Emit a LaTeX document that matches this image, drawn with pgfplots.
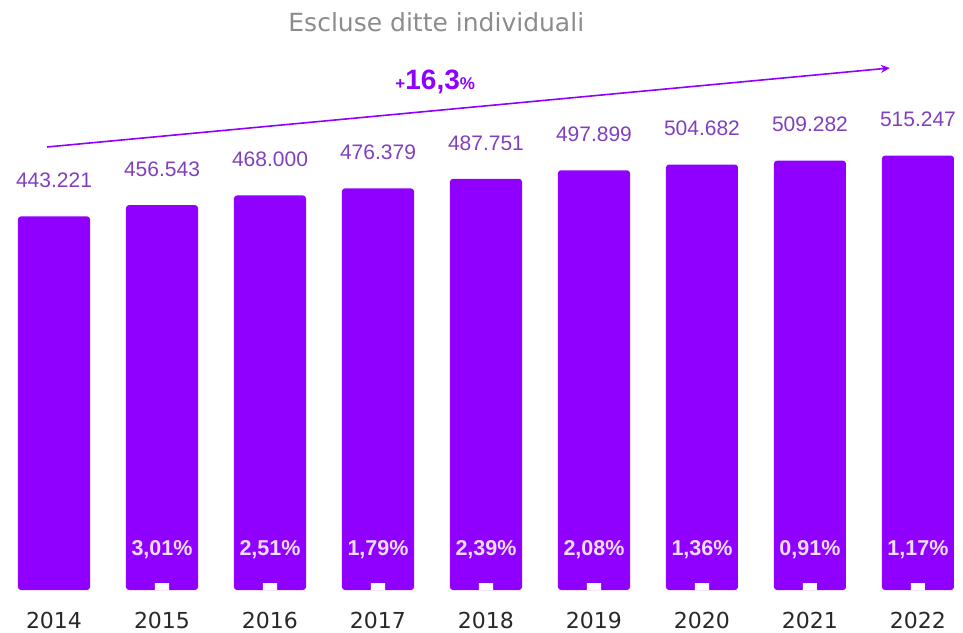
\documentclass[border=0pt]{standalone}
\usepackage{pgfplots}
\pgfplotsset{compat=1.18}
\usepackage{pgfplotstable}
\usetikzlibrary{arrows.meta}
\usepackage{fontspec}
\setmainfont{Liberation Sans}
\newfontfamily\comic{DejaVu Sans}
\definecolor{barc}{RGB}{143,0,255}
\definecolor{valc}{RGB}{128,64,190}
\definecolor{pctc}{RGB}{242,220,255}
\definecolor{titc}{RGB}{140,140,140}
\definecolor{yearc}{RGB}{40,40,40}
\pgfplotstableread{
x y lab
0 443221 443.221
1 456543 456.543
2 468000 468.000
3 476379 476.379
4 487751 487.751
5 497899 497.899
6 504682 504.682
7 509282 509.282
8 515247 515.247
}\datatab
\pgfplotstableread{
x y
1 8300
2 8300
3 8300
4 8300
5 8300
6 8300
7 8300
8 8300
}\marktab
\begin{document}
\begin{tikzpicture}
\begin{axis}[
  scale only axis,
  width=963pt, height=632pt,
  xmin=-0.5, xmax=8.417,
  ymin=-49822, ymax=699881,
  axis line style={draw=none},
  tick style={draw=none},
  ytick=\empty,
  xtick={0,...,8},
  xticklabels={2014,2015,2016,2017,2018,2019,2020,2021,2022},
  xticklabel style={anchor=center, yshift=12pt, font=\comic\fontsize{22}{24}\selectfont, text=yearc},
  clip=false,
]
\addplot[ybar, bar width=0.667, bar shift=0pt, fill=barc, draw=none,
  sharp corners, rounded corners=3pt,
  nodes near coords, point meta=explicit symbolic,
  every node near coord/.append style={anchor=center, yshift=36pt, text=valc, font=\fontsize{21}{23}\selectfont}]
  table[x=x, y=y, meta=lab] {\datatab};
\addplot[ybar, bar width=0.13, bar shift=0pt, fill=white, draw=none] table[x=x, y=y] {\marktab};
\foreach \i/\p in {1/{3,01},2/{2,51},3/{1,79},4/{2,39},5/{2,08},6/{1,36},7/{0,91},8/{1,17}} {
  \edef\tmp{\noexpand\node[text=pctc, font=\noexpand\bfseries\noexpand\fontsize{21.5}{23}\noexpand\selectfont] at (axis cs:\i,47450) {\p\noexpand\%};}
  \tmp
}
\draw[barc, line width=1.6pt, -{Stealth[length=9pt,width=8pt]}] (axis cs:-0.065,525500) -- (axis cs:7.74,619217);
\node[text=barc, font=\bfseries] at (axis cs:3.53,603000) {{\fontsize{17}{18}\selectfont+}{\fontsize{28}{30}\selectfont 16,3}{\fontsize{17}{18}\selectfont\%}};
\node[text=titc, font=\comic\fontsize{25}{27}\selectfont] at (axis cs:3.54,673800) {Escluse ditte individuali};
\end{axis}
\end{tikzpicture}
\end{document}
